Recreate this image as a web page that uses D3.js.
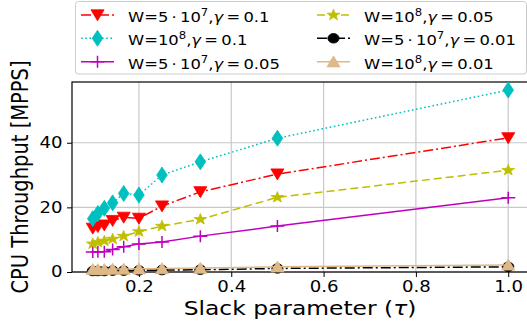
<!DOCTYPE html>
<html>
<head>
<meta charset="utf-8">
<script src="https://cdn.jsdelivr.net/npm/d3@7"></script>
<style>
  body { margin: 0; background: #fff; }
  svg text { font-family: "DejaVu Sans", sans-serif; fill: #000; }
</style>
</head>
<body>
<div id="chart"></div>
<script>
// slack parameter values (x) and throughput for each configuration
var slack = [0.1, 0.111, 0.125, 0.143, 0.167, 0.2, 0.25, 0.333, 0.5, 1.0];
var w5g01 = [13.5, 14.0, 14.5, 15.9, 16.9, 16.6, 20.4, 24.8, 30.3, 41.5];
var w8g01 = [16.5, 18.1, 19.7, 21.4, 24.3, 23.8, 30.0, 34.1, 41.4, 56.3];
var w5g005 = [6.2, 6.3, 6.3, 7.0, 7.8, 8.7, 9.3, 11.1, 14.2, 23.0];
var w8g005 = [8.7, 9.2, 9.6, 10.2, 11.1, 12.5, 14.2, 16.3, 23.1, 31.5];
var w5g001 = [0.3, 0.3, 0.3, 0.4, 0.4, 0.5, 0.6, 0.7, 1.1, 1.6];
var w8g001 = [0.8, 0.8, 0.8, 0.9, 0.9, 1.0, 1.1, 1.2, 1.6, 2.2];

var xTicks = [0.2, 0.4, 0.6, 0.8, 1.0];
var yTicks = [0, 20, 40];

// series: label parts are [text, kind] for the mathtext-ish legend
var series = [
  { vals: w5g01, color: "#ff0000", dash: "10,3,2,3", marker: "tridown",
    label: [["W=5\u2009·\u200910", ""], ["7", "sup"], [",", "back"], ["γ", "it"], ["\u2009=\u20090.1", ""]] },
  { vals: w8g01, color: "#00bfbf", dash: "1.6,2.6", marker: "thindiamond",
    label: [["W=10", ""], ["8", "sup"], [",", "back"], ["γ", "it"], ["\u2009=\u20090.1", ""]] },
  { vals: w5g005, color: "#bf00bf", dash: null, marker: "plus",
    label: [["W=5\u2009·\u200910", ""], ["7", "sup"], [",", "back"], ["γ", "it"], ["\u2009=\u20090.05", ""]] },
  { vals: w8g005, color: "#bfbf00", dash: "8,4", marker: "star",
    label: [["W=10", ""], ["8", "sup"], [",", "back"], ["γ", "it"], ["\u2009=\u20090.05", ""]] },
  { vals: w5g001, color: "#000000", dash: "10,3,2,3", marker: "circle",
    label: [["W=5\u2009·\u200910", ""], ["7", "sup"], [",", "back"], ["γ", "it"], ["\u2009=\u20090.01", ""]] },
  { vals: w8g001, color: "#deb887", dash: null, marker: "triup",
    label: [["W=10", ""], ["8", "sup"], [",", "back"], ["γ", "it"], ["\u2009=\u20090.01", ""]] }
];

var W = 527, H = 329;
var sx = 1.17; // the picture is a bit wider than tall, stretch text/markers

var x = d3.scaleLinear().domain([0.055, 1.045]).range([72, 529]);
var y = d3.scaleLinear().domain([0, 58.8]).range([272, 82]);

var svg = d3.select("#chart").append("svg")
    .attr("width", W)
    .attr("height", H);

// grid
svg.append("g").selectAll("line").data(xTicks).enter().append("line")
    .attr("x1", function (d) { return x(d); }).attr("x2", function (d) { return x(d); })
    .attr("y1", y.range()[0]).attr("y2", y.range()[1])
    .attr("stroke", "#c8c8c8").attr("stroke-width", 1.2);
svg.append("g").selectAll("line").data(yTicks).enter().append("line")
    .attr("x1", x.range()[0]).attr("x2", x.range()[1])
    .attr("y1", function (d) { return y(d); }).attr("y2", function (d) { return y(d); })
    .attr("stroke", "#c8c8c8").attr("stroke-width", 1.2);

// axes
var xAxis = svg.append("g")
    .attr("transform", "translate(0,272)")
    .call(d3.axisBottom(x).tickValues(xTicks).tickFormat(d3.format(".1f")).tickSize(5).tickPadding(4));
var yAxis = svg.append("g")
    .attr("transform", "translate(72,0)")
    .call(d3.axisLeft(y).tickValues(yTicks).tickFormat(d3.format("d")).tickSize(5).tickPadding(3));
[xAxis, yAxis].forEach(function (a) {
  a.select(".domain").remove();
  a.selectAll("line").attr("stroke", "#000").attr("stroke-width", 1);
  a.selectAll("text").style("font-size", "15.5px").attr("fill", "#000")
    .attr("transform", "scale(" + sx + ",1)");
});

// spines (right one falls off the picture)
svg.append("rect")
    .attr("x", x.range()[0]).attr("y", y.range()[1])
    .attr("width", x.range()[1] - x.range()[0])
    .attr("height", y.range()[0] - y.range()[1])
    .attr("fill", "none").attr("stroke", "#000").attr("stroke-width", 1.2);

function markerPath(kind) {
  var p = d3.path();
  if (kind === "tridown") {
    p.moveTo(-5.6 * sx, -5.2); p.lineTo(5.6 * sx, -5.2); p.lineTo(0, 5.8); p.closePath();
  } else if (kind === "triup") {
    p.moveTo(0, -5.8); p.lineTo(5.6 * sx, 5.2); p.lineTo(-5.6 * sx, 5.2); p.closePath();
  } else if (kind === "thindiamond") {
    p.moveTo(0, -8); p.lineTo(5.3, 0); p.lineTo(0, 8); p.lineTo(-5.3, 0); p.closePath();
  } else if (kind === "star") {
    for (var i = 0; i < 10; i++) {
      var r = i % 2 === 0 ? 5.8 : 2.3;
      var a = -Math.PI / 2 + i * Math.PI / 5;
      if (i === 0) p.moveTo(Math.cos(a) * r * sx, Math.sin(a) * r);
      else p.lineTo(Math.cos(a) * r * sx, Math.sin(a) * r);
    }
    p.closePath();
  } else if (kind === "circle") {
    return "M" + (-4.8 * sx) + ",0A" + (4.8 * sx) + ",4.8 0 1,0 " + (4.8 * sx) + ",0A" + (4.8 * sx) + ",4.8 0 1,0 " + (-4.8 * sx) + ",0Z";
  } else if (kind === "plus") {
    p.moveTo(0, -6); p.lineTo(0, 6); p.moveTo(-6 * sx, 0); p.lineTo(6 * sx, 0);
  }
  return p.toString();
}

function drawMarker(g, kind, color, cx, cy) {
  var m = g.append("path")
      .attr("d", markerPath(kind))
      .attr("transform", "translate(" + cx + "," + cy + ")");
  if (kind === "plus") m.attr("fill", "none").attr("stroke", color).attr("stroke-width", 1.5);
  else m.attr("fill", color).attr("stroke", color).attr("stroke-width", 0.8);
}

var line = d3.line()
    .x(function (d, i) { return x(slack[i]); })
    .y(function (d) { return y(d); });

series.forEach(function (s) {
  var g = svg.append("g");
  g.append("path")
      .attr("d", line(s.vals))
      .attr("fill", "none")
      .attr("stroke", s.color)
      .attr("stroke-width", 1.5)
      .attr("stroke-dasharray", s.dash);
  s.vals.forEach(function (v, i) {
    drawMarker(g, s.marker, s.color, x(slack[i]), y(v));
  });
});

// legend
var lg = svg.append("g");
lg.append("rect")
    .attr("x", 75.5).attr("y", 1.5)
    .attr("width", 451).attr("height", 72.5)
    .attr("rx", 3)
    .attr("fill", "#fff").attr("fill-opacity", 0.8)
    .attr("stroke", "#cccccc").attr("stroke-width", 1);

var colX = [81, 317], textX = [128, 364], rowY = [15, 38.3, 61.7];
series.forEach(function (s, k) {
  var c = Math.floor(k / 3), r = k % 3;
  var x0 = colX[c], yy = rowY[r];
  lg.append("line")
      .attr("x1", x0).attr("x2", x0 + 33)
      .attr("y1", yy).attr("y2", yy)
      .attr("stroke", s.color).attr("stroke-width", 1.5)
      .attr("stroke-dasharray", s.dash);
  drawMarker(lg, s.marker, s.color, x0 + 16.5, yy);
  var t = lg.append("text")
      .attr("transform", "translate(" + textX[c] + "," + (yy + 7) + ") scale(" + sx + ",1)")
      .style("font-size", "14px");
  s.label.forEach(function (part) {
    var ts = t.append("tspan").text(part[0]);
    if (part[1] === "sup") ts.style("font-size", "10px").attr("dy", -6);
    if (part[1] === "back") ts.attr("dy", 6);
    if (part[1] === "it") ts.style("font-style", "italic");
  });
});

// axis titles
svg.append("text")
    .attr("transform", "translate(300,315) scale(" + sx + ",1)")
    .attr("text-anchor", "middle")
    .style("font-size", "20px")
    .html("Slack parameter (<tspan font-style='italic'>τ</tspan>)");
svg.append("text")
    .attr("transform", "translate(28.3,177) scale(" + sx + ",1) rotate(-90)")
    .attr("text-anchor", "middle")
    .style("font-size", "19.5px")
    .text("CPU Throughput [MPPS]");
</script>
</body>
</html>
